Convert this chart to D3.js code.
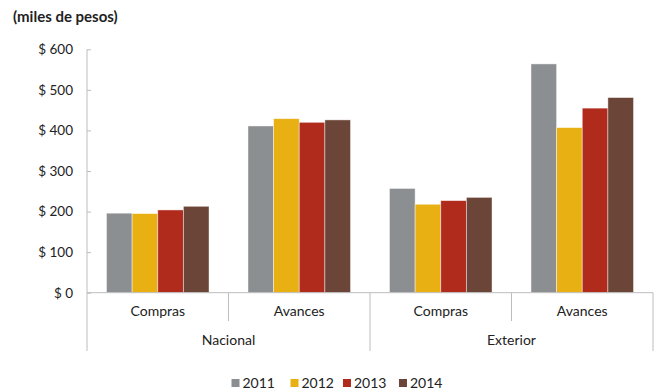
<!DOCTYPE html>
<html>
<head>
<meta charset="utf-8">
<script src="https://cdn.jsdelivr.net/npm/d3@7"></script>
<style>
  html, body { margin: 0; padding: 0; background: #fff; }
  svg { display: block; }
  text { font-family: Lato, "Open Sans", sans-serif; fill: #222; }
</style>
</head>
<body>
<svg id="chart" width="658" height="389"></svg>
<script>
// ---- data ----
const groups = ["Nacional", "Exterior"];
const subcats = ["Compras", "Avances"];
const years = ["2011", "2012", "2013", "2014"];
const v2011 = [196, 411, 257, 564];
const v2012 = [195, 429, 218, 407];
const v2013 = [204, 420, 227, 455];
const v2014 = [213, 426, 235, 481];
const yTicks = [0, 100, 200, 300, 400, 500, 600];
const colors = ["#8c8f92", "#e8b013", "#b12b1d", "#6b4537"];
const title = "(miles de pesos)";

const series = [v2011, v2012, v2013, v2014];
const cats = [];
groups.forEach(g => subcats.forEach(s => cats.push({group: g, sub: s, key: g + "|" + s})));

const svg = d3.select("#chart");
const left = 87, right = 653, y0 = 292.7, yTop = 49.3;

const x0 = d3.scaleBand().domain(cats.map(c => c.key)).range([left, right]).padding(0);
const x1 = d3.scaleBand().domain(years).range([0, x0.bandwidth()]).paddingInner(0).paddingOuter(0.76);
const y = d3.scaleLinear().domain([0, 600]).range([y0, yTop]);
const color = d3.scaleOrdinal().domain(years).range(colors);

// title
svg.append("text").attr("x", 13).attr("y", 22)
  .style("font-weight", "bold").style("font-size", "15px").text(title);

// y axis
const yAxis = d3.axisRight(y).tickValues(yTicks).tickSize(4).tickFormat(d => "$ " + d);
const ya = svg.append("g").attr("transform", `translate(${left},0)`).call(yAxis);
ya.select(".domain").remove();
ya.selectAll(".tick line").attr("stroke", "#bdbdbd");
ya.selectAll(".tick text").attr("x", -14).attr("text-anchor", "end")
  .style("font-size", "13.5px").style("font-family", "Lato, sans-serif").attr("fill", "#222");

// bars
cats.forEach((c, i) => {
  const g = svg.append("g").attr("transform", `translate(${x0(c.key)},0)`);
  g.selectAll("rect").data(years.map((yr, j) => ({yr, v: series[j][i]})))
    .join("rect")
    .attr("x", d => x1(d.yr))
    .attr("y", d => y(d.v))
    .attr("width", x1.bandwidth())
    .attr("height", d => y0 - y(d.v))
    .attr("fill", d => color(d.yr))
    .attr("stroke", "rgba(255,255,255,0.55)")
    .attr("stroke-width", 0.8);
});

// axis lines
const lineColor = "#bdbdbd";
svg.append("line").attr("x1", left).attr("x2", left).attr("y1", yTop).attr("y2", 351)
  .attr("stroke", lineColor);
svg.append("line").attr("x1", left).attr("x2", right).attr("y1", y0).attr("y2", y0)
  .attr("stroke", lineColor);

// category separators
cats.forEach((c, i) => {
  if (i === 0) return;
  const xx = x0(c.key);
  const isGroupBoundary = cats[i - 1].group !== c.group;
  svg.append("line").attr("x1", xx).attr("x2", xx).attr("y1", y0)
    .attr("y2", isGroupBoundary ? 351 : 321).attr("stroke", lineColor);
});
svg.append("line").attr("x1", right).attr("x2", right).attr("y1", y0).attr("y2", 351)
  .attr("stroke", lineColor);

// sub labels
svg.selectAll("text.sub").data(cats).join("text").attr("class", "sub")
  .attr("x", d => x0(d.key) + x0.bandwidth() / 2)
  .attr("y", 316)
  .attr("text-anchor", "middle").style("font-size", "14px")
  .text(d => d.sub);

// group labels
groups.forEach(g => {
  const ks = cats.filter(c => c.group === g).map(c => c.key);
  const gx0 = x0(ks[0]), gx1 = x0(ks[ks.length - 1]) + x0.bandwidth();
  svg.append("text").attr("x", (gx0 + gx1) / 2).attr("y", 345)
    .attr("text-anchor", "middle").style("font-size", "14px").text(g);
});

// legend
const legX = [231.5, 290.5, 343, 399];
years.forEach((yr, j) => {
  svg.append("rect").attr("x", legX[j]).attr("y", 379).attr("width", 8).attr("height", 8)
    .attr("fill", color(yr));
  svg.append("text").attr("x", legX[j] + 11).attr("y", 387.5)
    .style("font-size", "14px").text(yr);
});
</script>
</body>
</html>
